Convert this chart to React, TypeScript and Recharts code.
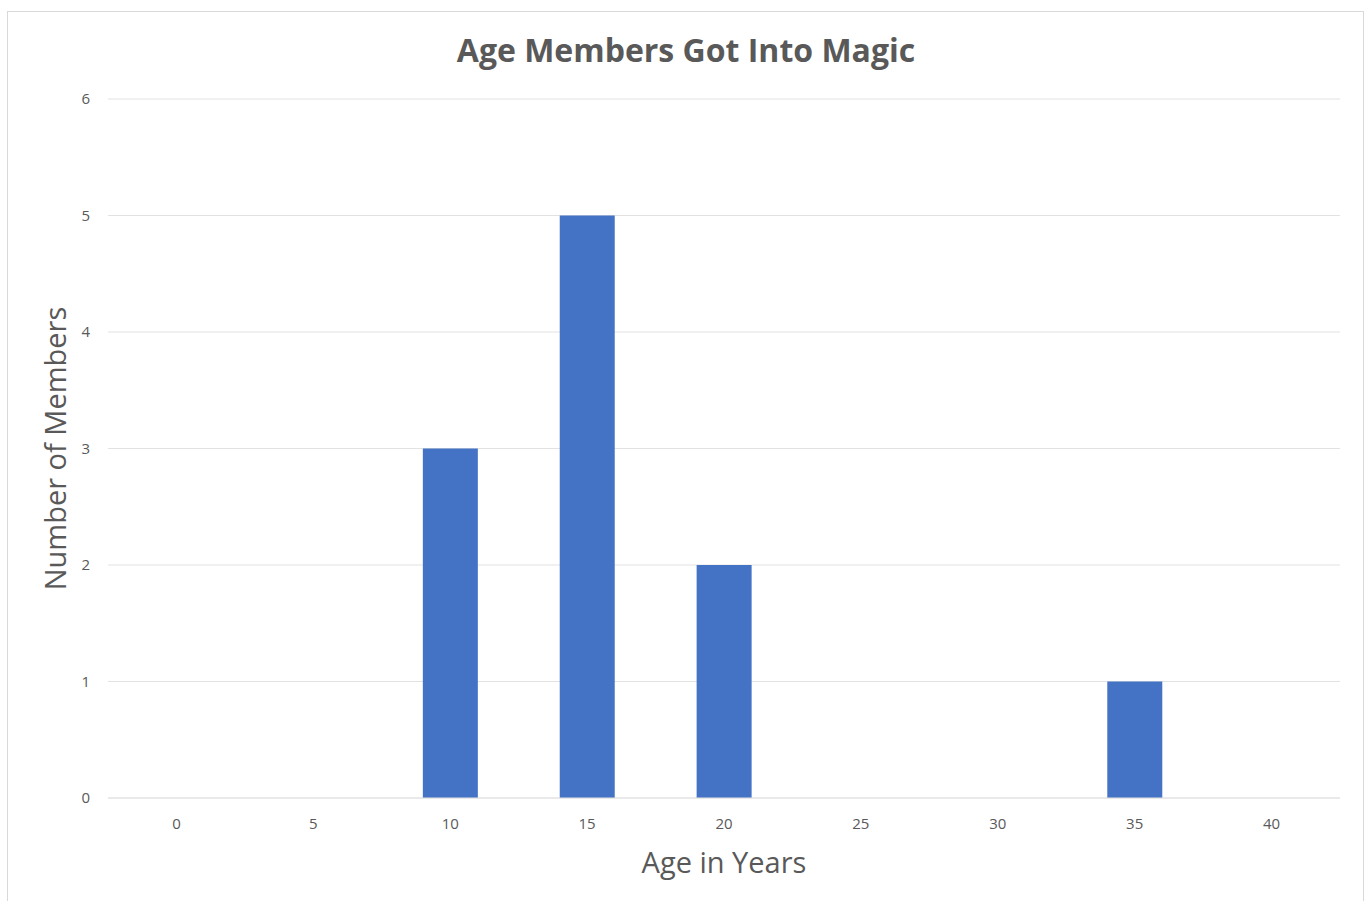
import React from 'react';
import { BarChart, Bar, XAxis, YAxis, CartesianGrid } from 'recharts';

const ages = ['0', '5', '10', '15', '20', '25', '30', '35', '40'];
const memberCounts = [0, 0, 3, 5, 2, 0, 0, 1, 0];
const yTicks = [0, 1, 2, 3, 4, 5, 6];

const data = ages.map((age, i) => ({ age, members: memberCounts[i] }));

const FONT = '"Open Sans", Lato, sans-serif';
const GREY = '#595959';

export default function App() {
  return (
    <div
      style={{
        position: 'absolute',
        left: 0,
        top: 0,
        width: 1368,
        height: 901,
        background: '#fff',
        fontFamily: FONT,
        overflow: 'hidden',
      }}
    >
      {/* outer chart frame */}
      <div
        style={{
          position: 'absolute',
          left: 7,
          top: 11,
          width: 1355,
          height: 900,
          border: '1px solid #d9d9d9',
        }}
      />
      <div
        style={{
          position: 'absolute',
          left: 0,
          top: 28,
          width: 1372,
          textAlign: 'center',
          fontSize: 32,
          fontWeight: 700,
          color: GREY,
        }}
      >
        Age Members Got Into Magic
      </div>
      <div style={{ position: 'absolute', left: 0, top: 0 }}>
        <BarChart
          width={1368}
          height={901}
          data={data}
          margin={{ top: 99, right: 28, bottom: 0, left: 0 }}
          barCategoryGap="30%"
        >
          <CartesianGrid vertical={false} stroke="#e2e2e2" />
          <XAxis
            dataKey="age"
            height={103}
            tickLine={false}
            axisLine={{ stroke: '#e2e2e2' }}
            tickMargin={14}
            tick={{ fill: GREY, fontSize: 15, fontFamily: FONT }}
            label={{
              value: 'Age in Years',
              position: 'insideBottom',
              offset: 28,
              style: { fill: GREY, fontSize: 29, fontFamily: FONT },
            }}
          />
          <YAxis
            width={108}
            domain={[0, 6]}
            ticks={yTicks}
            tickLine={false}
            axisLine={false}
            tickMargin={12}
            tick={{ fill: GREY, fontSize: 15, fontFamily: FONT }}
            label={{
              value: 'Number of Members',
              angle: -90,
              position: 'insideLeft',
              offset: 56,
              style: { textAnchor: 'middle', fill: GREY, fontSize: 29, fontFamily: FONT },
            }}
          />
          <Bar dataKey="members" fill="#4472C4" isAnimationActive={false} />
        </BarChart>
      </div>
    </div>
  );
}
